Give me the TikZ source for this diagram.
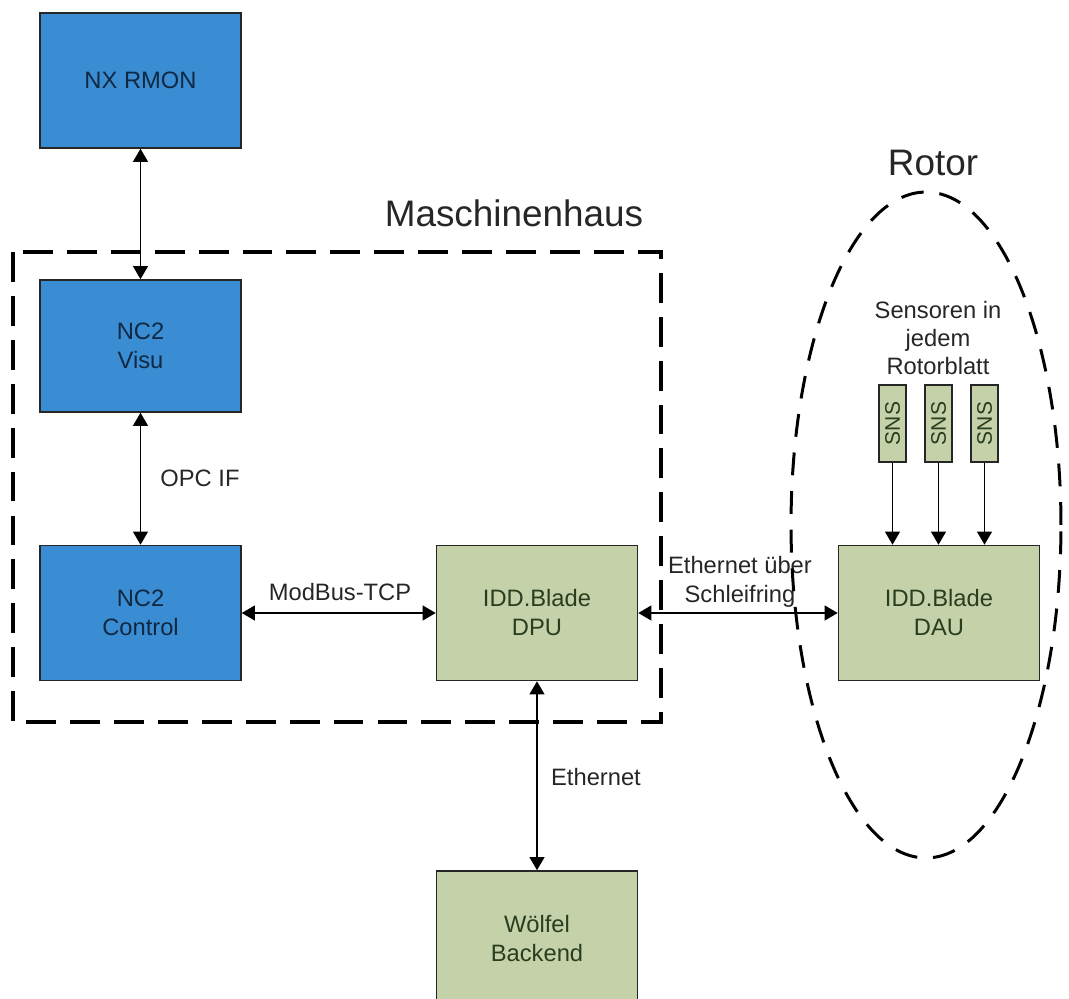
\documentclass[tikz,border=0pt]{standalone}
\usepackage{fontspec}
\setmainfont{Liberation Sans}
\usetikzlibrary{arrows.meta}
\definecolor{bluefill}{RGB}{58,141,211}
\definecolor{greenfill}{RGB}{197,209,168}
\definecolor{bluetext}{RGB}{16,40,66}
\definecolor{greentext}{RGB}{40,62,30}
\begin{document}
\begin{tikzpicture}[x=0.02cm,y=-0.02cm,
 bbox/.style={draw=black!85, line width=0.9pt, minimum width=4.02cm, minimum height=2.7cm, align=center, font=\fontsize{13.5}{16.5}\selectfont, inner sep=0pt},
 bluebox/.style={bbox, fill=bluefill, text=bluetext},
 greenbox/.style={bbox, fill=greenfill, text=greentext},
 snsbox/.style={draw=black!85, line width=0.9pt, fill=greenfill, minimum width=0.54cm, minimum height=1.54cm, inner sep=0pt, font=\fontsize{12}{14}\selectfont, text=greentext},
 conn/.style={line width=1pt, {Triangle[length=7.5pt,width=8.5pt]}-{Triangle[length=7.5pt,width=8.5pt]}},
 feed/.style={line width=1pt, -{Triangle[length=7.5pt,width=8.5pt]}},
 lbl/.style={font=\fontsize{13.5}{16.2}\selectfont, text=black!85, align=center},
 titletext/.style={font=\fontsize{21}{25}\selectfont, text=black!85},
 housefr/.style={line width=2.8pt, dash pattern=on 17pt off 8pt},
 rotorfr/.style={line width=1.7pt, dash pattern=on 13pt off 9pt}]
\clip (0,0) rectangle (1069,999);
\node[bluebox] (rmon) at (140.5,80.5) {NX RMON};
\node[bluebox, minimum height=2.64cm] (visu) at (140.5,346) {NC2\\Visu};
\node[bluebox] (ctrl) at (140.5,613) {NC2\\Control};
\node[greenbox] (dpu) at (537,613) {IDD.Blade\\DPU};
\node[greenbox] (dau) at (939,613) {IDD.Blade\\DAU};
\node[greenbox] (wolf) at (537,938.5) {Wölfel\\Backend};
\node[snsbox] (s1) at (892.5,423.5) {\rotatebox{90}{SNS}};
\node[snsbox] (s2) at (938.5,423.5) {\rotatebox{90}{SNS}};
\node[snsbox] (s3) at (984.5,423.5) {\rotatebox{90}{SNS}};
\draw[conn] (rmon) -- (visu);
\draw[conn] (visu) -- (ctrl);
\draw[conn] (ctrl) -- (dpu);
\draw[conn] (dpu) -- (dau);
\draw[conn] (dpu) -- (wolf);
\draw[feed] (s1) -- (s1 |- dau.north);
\draw[feed] (s2) -- (s2 |- dau.north);
\draw[feed] (s3) -- (s3 |- dau.north);
\node[lbl] (opc) at (200,478) {OPC IF};
\node[lbl] (modbus) at (340,592) {ModBus-TCP};
\node[lbl] (schleif) at (740,582) {Ethernet über\\Schleifring};
\node[lbl] (eth) at (596,777) {Ethernet};
\node[lbl] (sens) at (938,338) {Sensoren in\\jedem\\Rotorblatt};
\node[titletext] (mh) at (514,213) {Maschinenhaus};
\node[titletext] (rotor) at (933,163) {Rotor};
\draw[housefr] (13,252) rectangle (661,722);
\draw[rotorfr] (926,525) ellipse [x radius=2.7cm, y radius=6.66cm];
\end{tikzpicture}
\end{document}
